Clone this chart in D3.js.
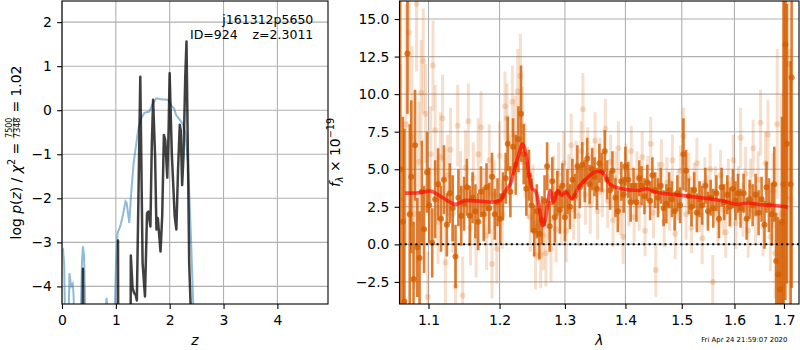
<!DOCTYPE html>
<html>
<head>
<meta charset="utf-8">
<script src="https://cdn.jsdelivr.net/npm/d3@7"></script>
<style>
body { margin: 0; background: #fff; }
svg text { font-family: "DejaVu Sans", sans-serif; }
</style>
</head>
<body>
<svg id="fig" width="800" height="350"></svg>
<script>

// ---- left panel: p(z) curves
let priorZ = [0.00,0.02,0.04,0.06,0.12,0.138,0.17,0.20,0.215,0.23,0.34,0.37,0.388,0.41,0.44,0.78,0.827,0.845,0.90,0.97,1.00,1.03,1.08,1.12,1.18,1.20,1.25,1.28,1.33,1.39,1.42,1.47,1.53,1.62,1.69,1.75,1.84,1.97,2.02,2.08,2.12,2.19,2.25,2.29,2.34,2.39,2.44,2.46]
let priorLogp = [-3.2,-3.17,-3.5,-5.0,-5.0,-3.7,-4.0,-3.94,-4.2,-5.0,-5.0,-3.5,-3.09,-3.3,-5.0,-5.0,-4.26,-4.5,-5.0,-5.0,-3.6,-2.79,-2.64,-2.45,-2.07,-2.1,-2.56,-1.96,-1.2,-0.67,-0.41,-0.18,-0.06,-0.03,0.16,0.27,0.25,0.24,0.12,0.04,-0.11,-0.22,-0.33,-0.52,-1.2,-2.71,-4.5,-6.0]

let chiZ = [0.375,0.386,0.389,0.392,0.40,1.03,1.037,1.04,1.043,1.05,1.27,1.276,1.278,1.31,1.34,1.37,1.39,1.454,1.497,1.541,1.579,1.604,1.642,1.667,1.692,1.729,1.754,1.78,1.817,1.83,1.861,1.892,1.917,1.955,1.98,1.999,2.04,2.093,2.124,2.155,2.187,2.205,2.231,2.256,2.29,2.312,2.343,2.362,2.393,2.40]
let chiLogp = [-6,-4.5,-3.6,-4.5,-6,-6,-4.5,-2.96,-4.5,-6,-6,-4.2,-3.3,-4.04,-4.15,-4.2,-4.32,0.76,-3.47,-4.23,-2.34,-2.3,-2.64,-0.83,0.24,-1.05,-2.71,-2.45,-3.02,-3.21,-2.4,-0.56,-0.67,-1.53,-0.45,0.84,-1.0,-2.41,-2.71,-1.35,-0.33,-0.45,-1.7,-1.05,0.8,1.56,-1.5,-3.47,-4.6,-6]

let zTicks = [0, 1, 2, 3, 4]
let logpTicks = [-4, -3, -2, -1, 0, 1, 2]

// ---- right panel: spectrum
let binLam = [1.0625,1.066,1.068,1.072,1.075,1.077,1.080,1.082,1.085,1.088,
	1.091,1.094,1.098,1.101,1.105,1.109,1.113,1.117,1.121,1.125,
	1.129,1.133,1.137,1.141,1.145,1.149,1.153,1.157,1.161,1.165,
	1.169,1.173,1.177,1.181,1.185,1.189,1.193,1.197,1.201,1.205,
	1.209,1.212,1.216,1.220,1.224,1.228,1.232,1.236,1.240,1.244,
	1.248,1.252,1.256,1.260,1.264,1.268,1.272,1.276,1.280,1.284,
	1.288,1.292,1.296,1.300,1.304,1.308,1.312,1.316,1.320,1.324,
	1.328,1.332,1.336,1.340,1.344,1.348,1.352,1.356,1.360,1.365,
	1.369,1.374,1.378,1.383,1.387,1.393,1.397,1.400,1.405,1.409,
	1.414,1.419,1.424,1.428,1.433,1.438,1.443,1.447,1.452,1.457,
	1.462,1.467,1.472,1.477,1.482,1.487,1.492,1.497,1.503,1.508,
	1.513,1.518,1.523,1.528,1.533,1.538,1.544,1.549,1.554,1.559,
	1.565,1.570,1.575,1.580,1.586,1.591,1.597,1.602,1.607,1.612,
	1.618,1.624,1.630,1.636,1.642,1.648,1.654,1.660,1.664,1.669,
	1.675,1.680,1.684,1.688,1.692,1.696,1.699,1.703,1.706,1.714,1.716]
let binFlux = [5.0,1.5,-3.8,12.7,2.0,4.5,-2.3,6.6,-0.2,-0.9,
	3.5,1.0,4.8,2.6,0.1,3.0,4.0,1.7,4.3,1.3,
	3.4,2.4,-0.8,3.1,1.9,2.7,3.8,1.9,3.1,2.2,
	1.5,3.5,2.0,3.8,2.4,4.5,2.0,2.8,1.7,3.2,
	4.4,6.7,3.5,6.5,5.3,7.0,8.7,6.0,3.7,4.6,
	2.6,0.9,2.2,0.7,1.6,2.9,5.2,1.2,4.2,1.8,
	3.4,2.3,3.9,1.8,3.5,2.5,4.3,3.2,5.2,3.8,
	5.3,4.2,5.7,4.0,5.0,4.5,3.7,5.4,4.8,6.2,
	4.3,3.6,4.9,3.1,2.2,4.2,3.3,5.2,4.3,2.8,
	3.9,2.8,4.4,3.9,3.2,4.1,2.9,4.6,3.6,3.1,
	3.9,2.4,2.7,3.6,3.0,2.2,3.4,2.6,6.0,4.9,
	3.2,2.5,3.6,2.1,3.0,2.6,3.9,2.2,3.1,2.4,
	3.4,1.7,3.8,2.8,3.3,2.5,3.7,2.9,3.4,2.4,
	3.4,1.7,3.0,2.6,3.3,2.1,3.0,1.3,3.8,2.6,
	2.0,4.0,-1.1,-2.0,-3.0,1.5,4.0,13.3,6.7,4.0,11.1]
let binErr = [12.0,7.0,11.5,4.0,6.0,5.1,3.8,3.7,3.3,3.1,
	3.4,2.9,2.7,2.5,2.3,2.6,2.4,2.2,2.3,2.1,
	2.0,2.2,2.1,1.9,2.0,1.8,1.9,2.0,1.7,1.8,
	1.9,1.7,1.8,1.6,1.7,1.6,1.7,1.6,1.7,1.6,
	1.7,1.8,1.7,1.9,2.0,2.2,3.2,2.0,1.8,1.7,
	1.8,1.7,1.8,1.7,1.6,1.7,1.6,1.7,1.6,1.7,
	1.5,1.6,1.5,1.6,1.5,1.5,1.4,1.5,1.4,1.4,
	1.5,1.4,1.4,1.3,1.4,1.3,1.4,1.3,1.3,1.4,
	1.3,1.3,1.3,1.3,1.4,1.3,1.2,1.3,1.2,1.3,
	1.2,1.3,1.2,1.3,1.2,1.2,1.3,1.2,1.2,1.3,
	1.2,1.2,1.3,1.2,1.2,1.3,1.2,1.2,2.4,1.4,
	1.2,1.3,1.2,1.3,1.2,1.3,1.2,1.3,1.2,1.3,
	1.2,1.3,1.3,1.2,1.3,1.3,1.3,1.3,1.3,1.3,
	1.3,1.4,1.3,1.4,1.4,1.5,1.5,1.6,1.7,1.8,
	2.1,2.5,3.2,3.8,4.5,7.0,17.0,17.0,9.3,8.2,14.0]

let rawLam = [1.063,1.070,1.074,1.078,1.081,1.084,1.087,1.090,1.093,1.096,
	1.099,1.103,1.106,1.109,1.113,1.116,1.119,1.123,1.126,1.130,
	1.133,1.137,1.140,1.144,1.147,1.151,1.155,1.158,1.162,1.166,
	1.169,1.173,1.177,1.181,1.185,1.189,1.192,1.196,1.200,1.204,
	1.208,1.211,1.215,1.219,1.223,1.227,1.231,1.234,1.238,1.242,
	1.246,1.250,1.254,1.258,1.262,1.266,1.270,1.274,1.278,1.282,
	1.286,1.290,1.294,1.298,1.302,1.306,1.310,1.314,1.318,1.322,
	1.326,1.329,1.333,1.337,1.341,1.345,1.349,1.353,1.357,1.361,
	1.366,1.370,1.375,1.379,1.384,1.388,1.392,1.396,1.401,1.406,
	1.410,1.415,1.420,1.424,1.429,1.434,1.439,1.444,1.449,1.453,
	1.458,1.463,1.468,1.473,1.478,1.483,1.488,1.493,1.498,1.503,
	1.508,1.513,1.518,1.523,1.528,1.533,1.538,1.543,1.548,1.553,
	1.558,1.563,1.568,1.573,1.578,1.583,1.588,1.593,1.598,1.603,
	1.608,1.612,1.617,1.622,1.627,1.632,1.637,1.642,1.647,1.652,
	1.657,1.662,1.667,1.672,1.677,1.682,1.686,1.690,1.695,1.702,1.708,1.712]
let rawFlux = [3.0,8.0,14.1,7.2,2.0,16.0,5.5,10.1,12.2,8.7,
	-3.5,6.0,11.9,7.6,1.5,5.8,8.4,-1.2,4.6,6.3,
	2.0,-2.8,7.9,3.6,-3.4,5.1,8.2,1.1,4.4,0.3,
	6.0,7.8,2.7,0.6,5.6,-1.3,3.3,-0.3,5.9,2.0,
	9.2,8.4,5.0,9.5,7.3,10.2,11.2,7.9,5.6,4.1,
	1.8,3.0,-0.7,1.2,-0.7,0.6,-0.6,2.5,-0.3,3.7,
	1.0,4.7,2.1,5.4,0.9,3.9,6.6,2.3,4.9,1.9,
	6.2,9.0,3.3,5.9,2.6,4.6,6.9,2.2,5.2,3.6,
	7.7,2.9,5.5,1.6,4.4,6.4,2.4,0.5,5.0,3.0,
	6.2,1.8,4.5,2.6,5.8,0.9,4.2,6.7,2.1,-1.7,
	3.8,5.3,1.5,4.1,2.6,5.6,0.7,3.3,4.9,7.2,
	2.0,4.4,1.1,3.7,5.4,2.5,0.4,4.1,2.9,5.0,
	-2.5,3.5,1.6,4.6,2.3,0.8,4.0,2.8,5.6,1.4,
	3.4,7.1,2.3,4.7,0.9,3.9,6.4,2.0,4.3,8.1,
	1.2,5.4,7.3,0.5,3.6,-0.6,8.0,-2.0,2.0,10.0,12.0,3.0]
let rawErr = [9.0,8.0,4.0,6.0,5.0,4.5,4.0,3.5,3.5,3.3,
	3.0,3.2,3.0,3.0,2.8,3.0,2.9,2.8,2.7,2.8,
	2.6,2.7,2.7,2.6,2.6,2.5,2.5,2.5,2.4,2.5,
	2.4,2.4,2.4,2.3,2.4,2.3,2.3,2.3,2.3,2.3,
	2.3,2.3,2.4,2.4,2.6,2.8,2.8,2.6,2.5,2.4,
	2.3,2.3,2.3,2.3,2.2,2.3,2.2,2.2,2.2,2.2,
	2.2,2.1,2.2,2.1,2.1,2.1,2.1,2.0,2.0,2.0,
	2.0,2.4,2.0,1.9,1.9,1.9,1.9,1.9,1.9,1.8,
	2.0,1.8,1.8,1.8,1.8,1.8,1.8,1.8,1.7,1.8,
	1.7,1.7,1.7,1.7,1.7,1.7,1.7,1.8,1.7,1.8,
	1.7,1.7,1.7,1.7,1.7,1.7,1.7,1.7,1.7,1.9,
	1.7,1.7,1.7,1.7,1.7,1.7,1.7,1.7,1.7,1.7,
	1.8,1.7,1.7,1.7,1.7,1.7,1.7,1.7,1.7,1.7,
	1.8,2.0,1.8,1.8,1.8,1.8,1.9,1.9,1.9,2.2,
	2.0,2.1,2.3,2.3,2.5,3.0,5.0,4.5,8.0,10.0,9.0,10.0]

let modelLam = [1.069,1.087,1.102,1.114,1.125,1.137,1.151,1.170,1.189,1.201,1.209,1.216,1.223,1.229,1.234,1.239,1.244,1.249,1.254,1.259,1.265,1.269,1.273,1.277,1.282,1.289,1.295,1.301,1.311,1.322,1.333,1.348,1.358,1.365,1.373,1.393,1.422,1.437,1.451,1.472,1.500,1.524,1.562,1.588,1.604,1.627,1.654,1.681,1.708]
let modelFlux = [3.41,3.44,3.55,3.27,2.93,2.66,2.93,2.88,2.81,2.93,3.59,4.03,5.14,6.03,6.69,6.10,4.70,3.70,3.55,2.70,1.26,1.59,2.70,3.59,2.80,3.59,3.26,3.48,3.04,3.81,4.30,4.80,4.87,4.59,4.03,3.70,3.59,3.70,3.48,3.37,3.26,3.15,2.99,2.81,2.66,2.75,2.64,2.59,2.48]

let lamTicks = [1.1, 1.2, 1.3, 1.4, 1.5, 1.6, 1.7]
let fluxTicks = [-2.5, 0, 2.5, 5, 7.5, 10, 12.5, 15]


const svg = d3.select('#fig')
svg.append('rect').attr('width', 800).attr('height', 350).attr('fill', '#fff')

const TICK = 13.9
const orange = '#d55e00'

let defs = svg.append('defs')

function panel(id, box){
	defs.append('clipPath').attr('id', id)
		.append('rect')
		.attr('x', box.x0).attr('y', box.y0)
		.attr('width', box.x1 - box.x0).attr('height', box.y1 - box.y0)
	return svg.append('g')
}

function grid(g, box, xs, ys, xScale, yScale){
	g.append('g').selectAll('line')
		.data(xs)
		.enter()
		.append('line')
		.attr('x1', d => xScale(d)).attr('x2', d => xScale(d))
		.attr('y1', box.y0).attr('y2', box.y1)
		.attr('stroke', '#b0b0b0').attr('stroke-width', 1.1)
	g.append('g').selectAll('line')
		.data(ys)
		.enter()
		.append('line')
		.attr('y1', d => yScale(d)).attr('y2', d => yScale(d))
		.attr('x1', box.x0).attr('x2', box.x1)
		.attr('stroke', '#b0b0b0').attr('stroke-width', 1.1)
}

function styleAxis(a){
	a.select('.domain').remove()
	a.attr('font-family', 'DejaVu Sans').attr('font-size', TICK + 'px')
	a.selectAll('.tick line').attr('stroke', '#000').attr('stroke-width', 1.1)
	a.selectAll('.tick text').attr('fill', '#000')
}

function frame(box){
	svg.append('rect')
		.attr('x', box.x0).attr('y', box.y0)
		.attr('width', box.x1 - box.x0).attr('height', box.y1 - box.y0)
		.attr('fill', 'none').attr('stroke', '#000').attr('stroke-width', 1.1)
}


// ================= left: p(z)
let L = {x0: 62, x1: 328, y0: 1, y1: 304}
let zScale = d3.scaleLinear().domain([0, 4.94]).range([L.x0, L.x1])
let pScale = d3.scaleLinear().domain([-4.4, 2.48]).range([L.y1, L.y0])

let gl = panel('clipL', L)
grid(gl, L, zTicks, logpTicks, zScale, pScale)

let curves = gl.append('g').attr('clip-path', 'url(#clipL)')

let priorLine = d3.line().x(d => zScale(d[0])).y(d => pScale(d[1]))

curves.append('path')
	.attr('d', priorLine(priorZ.map((z, i) => [z, priorLogp[i]])))
	.attr('fill', 'none')
	.attr('stroke', '#1f77b4').attr('stroke-opacity', 0.5).attr('stroke-width', 2)

curves.append('path')
	.attr('d', priorLine(chiZ.map((z, i) => [z, chiLogp[i]])))
	.attr('fill', 'none')
	.attr('stroke', '#000').attr('stroke-opacity', 0.75).attr('stroke-width', 2.5)
	.attr('stroke-linejoin', 'round')

frame(L)

let axZ = svg.append('g').attr('transform', 'translate(0,' + L.y1 + ')')
	.call(d3.axisBottom(zScale).tickValues(zTicks).tickFormat(d3.format('d')).tickSize(4.9).tickPadding(6.7))
styleAxis(axZ)

let axP = svg.append('g').attr('transform', 'translate(' + L.x0 + ',0)')
	.call(d3.axisLeft(pScale).tickValues(logpTicks).tickFormat(d3.format('d')).tickSize(4.9).tickPadding(5.2))
styleAxis(axP)

svg.append('text').attr('x', 313.3).attr('y', 24.3)
	.attr('text-anchor', 'end').attr('font-size', '12.5px')
	.text('j161312p5650')
svg.append('text').attr('x', 190).attr('y', 39.3)
	.attr('font-size', '12.5px')
	.text('ID=924')
svg.append('text').attr('x', 313.3).attr('y', 39.3)
	.attr('text-anchor', 'end').attr('font-size', '12.5px')
	.text('z=2.3011')

svg.append('text').attr('x', (L.x0 + L.x1) / 2).attr('y', 345)
	.attr('text-anchor', 'middle').attr('font-size', TICK + 'px').attr('font-style', 'italic')
	.text('z')

// y label:  log p(z) / chi^2 = 7500/7348 = 1.02
let ylab = svg.append('g').attr('transform', 'translate(20.7,' + ((L.y0 + L.y1) / 2) + ') rotate(-90)')
let inner = ylab.append('g')
let cx = 0

function piece(txt, italic, size, dy){
	let t = inner.append('text')
		.attr('x', cx).attr('y', dy || 0)
		.attr('font-size', (size || TICK) + 'px')
		.attr('font-style', italic ? 'italic' : 'normal')
		.text(txt)
	cx += t.node().getComputedTextLength()
}
let sp = 0.318 * TICK

piece('log')
cx += sp
piece('p', true)
piece('(')
piece('z', true)
piece(')')
cx += sp
piece('/')
cx += sp
piece('χ', true)
piece('2', false, 9.7, -5.8)
cx += sp
piece('=')
cx += sp

let num = inner.append('text').attr('font-size', '8px').attr('y', -8.4).attr('text-anchor', 'middle').text('7500')
let den = inner.append('text').attr('font-size', '8px').attr('y', -0.6).attr('text-anchor', 'middle').text('7348')
let fw = Math.max(num.node().getComputedTextLength(), den.node().getComputedTextLength()) + 1
num.attr('x', cx + fw / 2)
den.attr('x', cx + fw / 2)
inner.append('line')
	.attr('x1', cx).attr('x2', cx + fw)
	.attr('y1', -6.9).attr('y2', -6.9)
	.attr('stroke', '#000').attr('stroke-width', 0.6)
cx += fw

cx += sp
piece('=')
cx += sp
piece('1.02')
inner.attr('transform', 'translate(' + (-cx / 2) + ',0)')


// ================= right: spectrum
let R = {x0: 399.5, x1: 799, y0: 1, y1: 304}
let lamScale = d3.scaleLog().domain([1.0616, 1.7316]).range([R.x0, R.x1])
let fScale = d3.scaleLinear().domain([-3.97, 16.2]).range([R.y1, R.y0])

let gr = panel('clipR', R)
grid(gr, R, lamTicks, fluxTicks, lamScale, fScale)

let spec = gr.append('g').attr('clip-path', 'url(#clipR)')

function errorbars(g, lam, flux, err, opacity, width, r){
	let pts = lam.map((l, i) => ({l: l, f: flux[i], e: err[i]}))
	let grp = g.append('g')
	grp.selectAll('line')
		.data(pts)
		.enter()
		.append('line')
		.attr('x1', d => lamScale(d.l)).attr('x2', d => lamScale(d.l))
		.attr('y1', d => fScale(d.f - d.e)).attr('y2', d => fScale(d.f + d.e))
		.attr('stroke', orange).attr('stroke-opacity', opacity)
		.attr('stroke-width', width)
	grp.selectAll('circle')
		.data(pts)
		.enter()
		.append('circle')
		.attr('cx', d => lamScale(d.l))
		.attr('cy', d => fScale(d.f))
		.attr('r', r)
		.attr('fill', orange).attr('fill-opacity', opacity)
}

errorbars(spec, rawLam, rawFlux, rawErr, 0.2, 3, 3)
errorbars(spec, binLam, binFlux, binErr, 0.8, 2.6, 3)

spec.append('path')
	.attr('d', d3.line().curve(d3.curveMonotoneX)
		.x(d => lamScale(d[0])).y(d => fScale(d[1]))(modelLam.map((l, i) => [l, modelFlux[i]])))
	.attr('fill', 'none')
	.attr('stroke', '#ff0000').attr('stroke-opacity', 0.65).attr('stroke-width', 3.6)
	.attr('stroke-linejoin', 'round')

spec.append('line')
	.attr('x1', R.x0).attr('x2', R.x1)
	.attr('y1', fScale(0)).attr('y2', fScale(0))
	.attr('stroke', '#000').attr('stroke-width', 2)
	.attr('stroke-dasharray', '2,3.3')

frame(R)

let axL = svg.append('g').attr('transform', 'translate(0,' + R.y1 + ')')
	.call(d3.axisBottom(lamScale).tickValues(lamTicks).tickFormat(d3.format('.1f')).tickSize(4.9).tickPadding(6.7))
styleAxis(axL)

let axF = svg.append('g').attr('transform', 'translate(' + R.x0 + ',0)')
	.call(d3.axisLeft(fScale).tickValues(fluxTicks).tickFormat(d3.format('.1f')).tickSize(4.9).tickPadding(5.2))
styleAxis(axF)

svg.append('text').attr('x', (R.x0 + R.x1) / 2).attr('y', 345)
	.attr('text-anchor', 'middle').attr('font-size', TICK + 'px').attr('font-style', 'italic')
	.text('λ')

let fl = svg.append('text')
	.attr('transform', 'translate(340,' + ((R.y0 + R.y1) / 2) + ') rotate(-90)')
	.attr('text-anchor', 'middle').attr('font-size', TICK + 'px')
fl.append('tspan').attr('font-style', 'italic').text('f')
fl.append('tspan').attr('font-style', 'italic').attr('font-size', '9.7px').attr('dy', 3).text('λ')
fl.append('tspan').attr('dy', -3).text(' × 10')
fl.append('tspan').attr('font-size', '9.7px').attr('dy', -5.8).text('−19')

svg.append('text').attr('x', 787.3).attr('y', 341.8)
	.attr('text-anchor', 'end').attr('font-size', '6.9px')
	.text('Fri Apr 24 21:59:07 2020')

</script>
</body>
</html>
